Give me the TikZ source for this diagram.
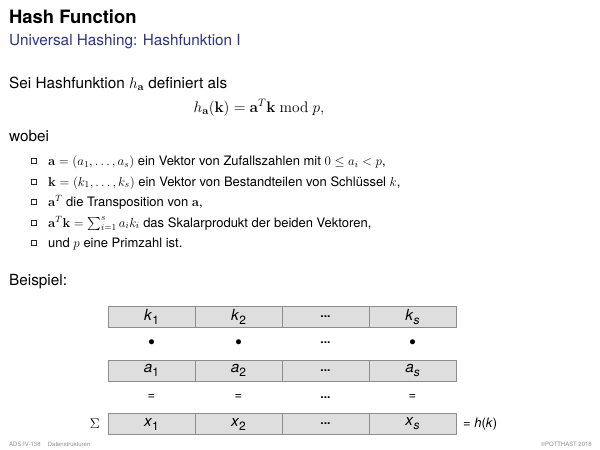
\RequirePackage{fix-cm}
\documentclass[tikz,border=0pt]{standalone}
\usepackage{amsmath}
\usepackage{amssymb}
\usepackage[no-math]{fontspec}
\setmainfont{TeX Gyre Heros}
\usepackage{xcolor}
\usepackage{tikz}
\usetikzlibrary{positioning}
\usetikzlibrary{shadows}
\definecolor{structblue}{RGB}{45,50,130}
\definecolor{cellgray}{gray}{0.87}
\newcommand{\cellvar}[2]{\textit{#1}\raisebox{-0.5ex}{\fontsize{12}{13}\selectfont #2}}
\newcommand{\celldots}{{\fontsize{12}{13}\selectfont\bfseries ...}}
\tikzset{
    txt/.style = {anchor=base west, inner sep=0pt, font=\fontsize{15.3}{18}\selectfont},
    itemtxt/.style = {txt, font=\fontsize{13}{15}\selectfont},
    titletxt/.style = {txt, font=\fontsize{18.4}{22}\selectfont\bfseries},
    subtxt/.style = {txt, text=structblue},
    foottxt/.style = {inner sep=0pt, text=black!45, font=\fontsize{6}{7}\selectfont},
    itembox/.style = {draw=black!85, fill=white, minimum size=4.8pt, inner sep=0pt, line width=0.5pt,
                      drop shadow={opacity=1, shadow xshift=0.7pt, shadow yshift=-0.7pt, fill=black!75}},
    cell/.style = {draw=black!45, fill=cellgray, minimum width=87pt, minimum height=21pt, inner sep=0pt,
                   outer sep=0pt, font=\fontsize{15.3}{18}\selectfont},
    rowmark/.style = {inner sep=0pt, font=\fontsize{13}{15}\selectfont}
}
\begin{document}
\begin{tikzpicture}[x=1pt, y=-1pt]
    \useasboundingbox (0,0) rectangle (600,450);
    % header
    \node [titletxt] (title) at (9,23) {Hash Function};
    \node [subtxt] (subtitle) at (9,45.5) {Universal Hashing: Hashfunktion I};
    % definition
    \node [txt] (intro) at (9,88) {Sei Hashfunktion $h_{\mathbf{a}}$ definiert als};
    \node [txt, anchor=base] (formula) at (259,112) {$h_{\mathbf{a}}(\mathbf{k})=\mathbf{a}^T\mathbf{k}\bmod p,$};
    \node [txt] (wobei) at (9,141) {wobei};
    % list
    \node [itembox] (b1) at (34,161) {};
    \node [itembox] (b2) at (34,181.5) {};
    \node [itembox] (b3) at (34,202) {};
    \node [itembox] (b4) at (34,222.5) {};
    \node [itembox] (b5) at (34,243) {};
    \node [itemtxt] (i1) at (48,165.5) {$\mathbf{a}=(a_1,\ldots,a_s)$ ein Vektor von Zufallszahlen mit $0\le a_i<p$,};
    \node [itemtxt] (i2) at (48,186) {$\mathbf{k}=(k_1,\ldots,k_s)$ ein Vektor von Bestandteilen von Schlüssel $k$,};
    \node [itemtxt] (i3) at (48,206.5) {$\mathbf{a}^T$ die Transposition von $\mathbf{a}$,};
    \node [itemtxt] (i4) at (48,227) {$\mathbf{a}^T\mathbf{k}=\sum_{i=1}^s a_ik_i$ das Skalarprodukt der beiden Vektoren,};
    \node [itemtxt] (i5) at (48,247.5) {und $p$ eine Primzahl ist.};
    % example
    \node [txt] (beispiel) at (9,285.5) {Beispiel:};
    \node [cell] (k1) at (151.5,317) {\cellvar{k}{1}};
    \node [cell, right=0pt of k1] (k2) {\cellvar{k}{2}};
    \node [cell, right=0pt of k2] (kd) {\celldots};
    \node [cell, right=0pt of kd] (ks) {\cellvar{k}{\textit{s}}};
    \node [rowmark] (m1) at (k1 |- 0,343) {$\bullet$};
    \node [rowmark] (m2) at (k2 |- 0,343) {$\bullet$};
    \node [rowmark] (md) at (kd |- 0,343) {\celldots};
    \node [rowmark] (ms) at (ks |- 0,343) {$\bullet$};
    \node [cell] (a1) at (151.5,370.5) {\cellvar{a}{1}};
    \node [cell, right=0pt of a1] (a2) {\cellvar{a}{2}};
    \node [cell, right=0pt of a2] (ad) {\celldots};
    \node [cell, right=0pt of ad] (as) {\cellvar{a}{\textit{s}}};
    \node [rowmark] (e1) at (a1 |- 0,397.5) {=};
    \node [rowmark] (e2) at (a2 |- 0,397.5) {=};
    \node [rowmark] (ed) at (ad |- 0,397.5) {\celldots};
    \node [rowmark] (es) at (as |- 0,397.5) {=};
    \node [cell] (x1) at (151.5,424) {\cellvar{x}{1}};
    \node [cell, right=0pt of x1] (x2) {\cellvar{x}{2}};
    \node [cell, right=0pt of x2] (xd) {\celldots};
    \node [cell, right=0pt of xd] (xs) {\cellvar{x}{\textit{s}}};
    \node [rowmark, left=8pt of x1, font=\fontsize{14}{16}\selectfont] (sigma) {$\Sigma$};
    \node [rowmark, right=7pt of xs, font=\fontsize{13}{15}\selectfont] (result) {= \textit{h}(\textit{k})};
    % footer
    \node [foottxt, anchor=base west] (foot) at (9,446) {ADS:IV-138\hspace{1.2em}Datenstrukturen};
    \node [foottxt, anchor=base east] (copy) at (592,446) {\textcopyright POTTHAST 2018};
\end{tikzpicture}
\end{document}
